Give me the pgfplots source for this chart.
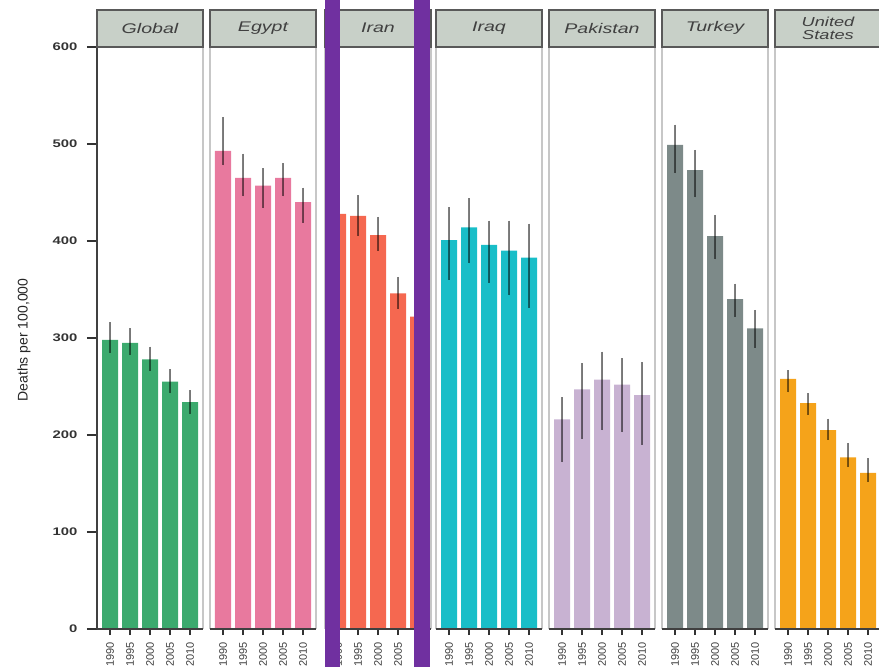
\documentclass[border=0pt]{standalone}
\usepackage{pgfplots}
\pgfplotsset{compat=1.18}
\usepackage{pgfplotstable}
\usepackage{fontspec}
\setmainfont{Liberation Sans}

\definecolor{globalc}{RGB}{60,170,110}
\definecolor{egyptc}{RGB}{232,121,158}
\definecolor{iranc}{RGB}{245,104,80}
\definecolor{iraqc}{RGB}{25,190,200}
\definecolor{pakc}{RGB}{200,178,210}
\definecolor{turkc}{RGB}{125,138,137}
\definecolor{usc}{RGB}{245,163,26}
\definecolor{stripc}{RGB}{200,208,200}
\definecolor{purp}{RGB}{112,48,160}

\pgfplotstableread{
x y lo hi
0 298 285 316
1 295 283 310
2 278 266 291
3 255 243 268
4 234 222 246
}\tglobal
\pgfplotstableread{
x y lo hi
0 493 478 528
1 465 446 490
2 457 434 475
3 465 446 480
4 440 419 455
}\tegypt
\pgfplotstableread{
x y lo hi
0 428 408 450
1 426 405 447
2 406 390 425
3 346 330 363
4 322 300 350
}\tiran
\pgfplotstableread{
x y lo hi
0 401 360 435
1 414 377 444
2 396 357 421
3 390 344 421
4 383 331 418
}\tiraq
\pgfplotstableread{
x y lo hi
0 216 172 239
1 247 196 274
2 257 205 286
3 252 203 279
4 241 190 275
}\tpak
\pgfplotstableread{
x y lo hi
0 499 470 520
1 473 445 494
2 405 381 427
3 340 322 356
4 310 290 329
}\tturk
\pgfplotstableread{
x y lo hi
0 258 244 267
1 233 221 243
2 205 195 217
3 177 167 192
4 161 152 176
}\tus

\pgfplotsset{
  panel/.style={
    scale only axis, width=53pt, height=291pt,
    anchor=south west,
    xmin=-0.65, xmax=4.65, ymin=0, ymax=600,
    axis line style={draw=none},
    xtick={0,1,2,3,4}, xticklabels={1990,1995,2000,2005,2010},
    x tick label style={rotate=90, anchor=east, font=\fontsize{5.5}{5.5}\selectfont, text=black!75},
    tick align=outside, xtick pos=left,
    major tick length=3pt,
    tick style={black!80, line width=0.8pt},
    ytick=\empty,
    clip=false,
    ybar, bar width=0.8,
  },
  bars/.style={fill=#1, draw=none,
    error bars/.cd, y dir=both, y explicit, error mark=none,
    error bar style={line width=1.3pt, black, opacity=0.5}},
}
\newcommand{\panelframe}{%
  \draw[black!22, line width=1pt] (rel axis cs:0,0) -- (rel axis cs:0,1) (rel axis cs:1,0) -- (rel axis cs:1,1);
  \draw[black!75, line width=0.8pt] (rel axis cs:0,0) -- (rel axis cs:1,0);
}
\newcommand{\dataplot}[2]{%
  \addplot[bars=#1] table[x=x, y=y, y error plus expr=\thisrow{hi}-\thisrow{y}, y error minus expr=\thisrow{y}-\thisrow{lo}] {#2};
}

\begin{document}
\begin{tikzpicture}
\useasboundingbox (-48.5pt,-18.5pt) rectangle (391pt,314.5pt);

% y axis
\begin{axis}[scale only axis, width=53pt, height=291pt, anchor=south west, at={(0pt,0pt)},
  xmin=-0.65, xmax=4.65, ymin=0, ymax=600,
  axis x line=none, axis y line*=left,
  axis line style={black!75, line width=1pt},
  ytick={0,100,...,600}, tick align=outside, major tick length=5pt,
  tick style={black!80, line width=0.8pt},
  /pgf/number format/assume math mode=true,
  y tick label style={font=\fontsize{5.5}{6}\selectfont\bfseries, text=black!80, xscale=1.35},
]
\end{axis}

\begin{axis}[panel, at={(0pt,0pt)}]
\dataplot{globalc}{\tglobal}
\panelframe
\end{axis}
\begin{axis}[panel, at={(56.5pt,0pt)}]
\dataplot{egyptc}{\tegypt}
\panelframe
\end{axis}
\begin{axis}[panel, at={(114pt,0pt)}]
\dataplot{iranc}{\tiran}
\panelframe
\end{axis}
\begin{axis}[panel, at={(169.5pt,0pt)}]
\dataplot{iraqc}{\tiraq}
\panelframe
\end{axis}
\begin{axis}[panel, at={(226pt,0pt)}]
\dataplot{pakc}{\tpak}
\panelframe
\end{axis}
\begin{axis}[panel, at={(282.5pt,0pt)}]
\dataplot{turkc}{\tturk}
\panelframe
\end{axis}
\begin{axis}[panel, at={(339pt,0pt)}]
\dataplot{usc}{\tus}
\panelframe
\end{axis}

% the y axis line over the first panel
\draw[black!75, line width=1pt] (0pt,0pt) -- (0pt,291pt);
% y label
\node[rotate=90, font=\fontsize{7}{8}\selectfont, text=black!85] at (-36.5pt,144.5pt) {Deaths per 100,000};

% strip headers
\foreach \xx/\lab in {0/Global, 56.5/Egypt, 114/Iran, 169.5/Iraq, 226/Pakistan, 282.5/Turkey}{
  \draw[fill=stripc, draw=black!65, line width=0.9pt] (\xx pt,291pt) rectangle ++(53pt,18.5pt);
  \node[font=\fontsize{7}{7}\selectfont\itshape, text=black!75, xscale=1.4] at (\xx pt+26.5pt,300.5pt) {\lab};
}
\draw[fill=stripc, draw=black!65, line width=0.9pt] (339pt,291pt) rectangle ++(53pt,18.5pt);
\node[font=\fontsize{6.5}{6.5}\selectfont\itshape, text=black!75, xscale=1.4, align=center] at (365.5pt,300.5pt) {United\\States};

% occluding bands
\fill[purp] (114pt,-20pt) rectangle (121.5pt,316pt);
\fill[purp] (158.5pt,-20pt) rectangle (166.5pt,316pt);
\end{tikzpicture}
\end{document}
